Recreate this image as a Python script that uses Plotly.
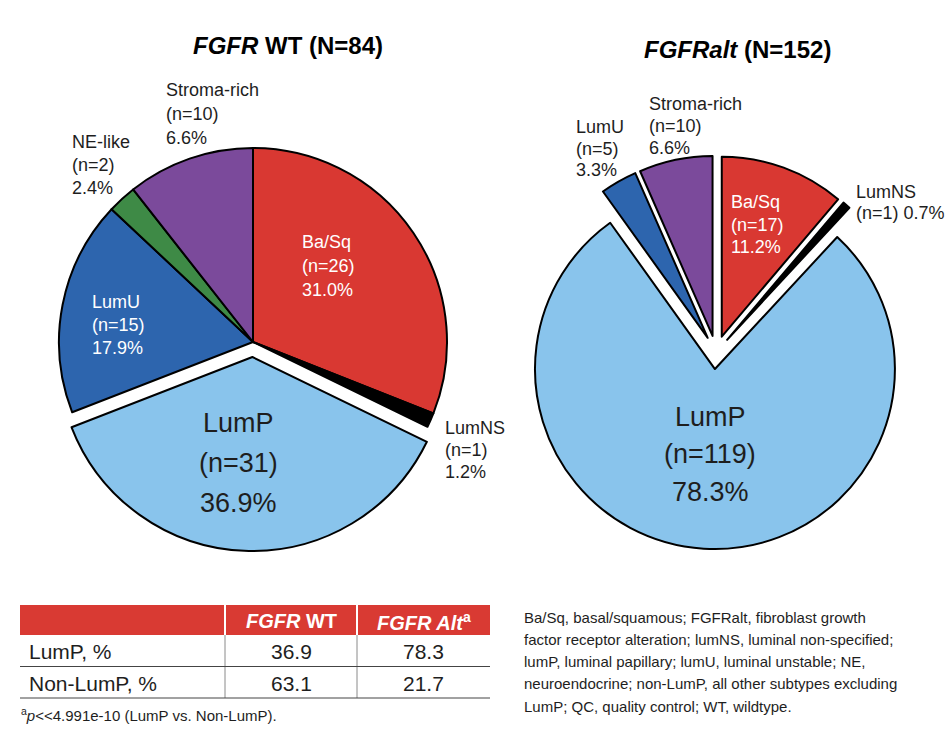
import plotly.graph_objects as go

# ---------------- data ----------------
wt_subtypes = ["Ba/Sq", "LumNS", "LumP", "LumU", "NE-like", "Stroma-rich"]
wt_n = [26, 1, 31, 15, 2, 10]
wt_pct_label = [31.0, 1.2, 36.9, 17.9, 2.4, 6.6]
wt_slice = [31.0, 1.2, 36.9, 17.9, 2.4, 10.6]   # slice sizes as drawn

alt_subtypes = ["Ba/Sq", "LumNS", "LumP", "LumU", "Stroma-rich"]
alt_n = [17, 1, 119, 5, 10]
alt_pct_label = [11.2, 0.7, 78.3, 3.3, 6.6]
alt_slice = [11.2, 0.7, 78.3, 3.3, 6.6]

table_header = ["", "<b><i>FGFR</i> WT</b>", "<b><i>FGFR Alt</i><sup>a</sup></b>"]
table_rows = ["LumP, %", "Non-LumP, %"]
table_wt = ["36.9", "63.1"]
table_alt = ["78.3", "21.7"]

footnote = "<sup>a</sup><i>p</i>&lt;&lt;4.991e-10 (LumP vs. Non-LumP)."
abbrev_lines = [
    "Ba/Sq, basal/squamous; FGFRalt, fibroblast growth",
    "factor receptor alteration; lumNS, luminal non-specified;",
    "lumP, luminal papillary; lumU, luminal unstable; NE,",
    "neuroendocrine; non-LumP, all other subtypes excluding",
    "LumP; QC, quality control; WT, wildtype.",
]

# ---------------- style ----------------
W, H = 946, 744
FONT = "Liberation Sans, Arial, sans-serif"
DARK = "#1e1e1e"
RED_HEAD = "#D93A33"
colors = {
    "Ba/Sq": "#D93832",
    "LumNS": "#000000",
    "LumP": "#89C4EC",
    "LumU": "#2D65AE",
    "NE-like": "#3E8A46",
    "Stroma-rich": "#7B4A9B",
}


def px(x):
    return x / W


def py(y):
    return 1 - y / H


fig = go.Figure()

fig.add_trace(go.Pie(
    labels=wt_subtypes, values=wt_slice, sort=False, direction="clockwise", rotation=0,
    marker=dict(colors=[colors[s] for s in wt_subtypes], line=dict(color="black", width=2)),
    pull=[0, 0, 0.0773, 0, 0, 0], textinfo="none", showlegend=False,
    domain=dict(x=[px(44), px(462)], y=[py(551), py(133)]),
))

fig.add_trace(go.Pie(
    labels=alt_subtypes, values=alt_slice, sort=False, direction="clockwise", rotation=0,
    marker=dict(colors=[colors[s] for s in alt_subtypes], line=dict(color="black", width=2)),
    pull=[0.093] * len(alt_subtypes), textinfo="none", showlegend=False,
    domain=dict(x=[px(519.3), px(912.7)], y=[py(549.1), py(155.6)]),
))

annotations = []
shapes = []


def text(t, x, y, size, color, xanchor="left"):
    annotations.append(dict(
        x=px(x), y=py(y), xref="paper", yref="paper", text=t,
        showarrow=False, xanchor=xanchor, yanchor="middle",
        font=dict(family=FONT, size=size, color=color)))


def add_lines(lines, x, y0, dy, size, color, xanchor="left"):
    for i, t in enumerate(lines):
        text(t, x, y0 + i * dy, size, color, xanchor)


def hline(x0, x1, y, color, width=1):
    shapes.append(dict(type="line", xref="paper", yref="paper", x0=px(x0), x1=px(x1),
                       y0=py(y), y1=py(y), line=dict(color=color, width=width)))


def vline(x, y0, y1, color, width=1):
    shapes.append(dict(type="line", xref="paper", yref="paper", x0=px(x), x1=px(x),
                       y0=py(y1), y1=py(y0), line=dict(color=color, width=width)))


# ---------------- table ----------------
TX0, TY0 = 20, 605
colw = [205, 132, 133]
HEAD_H, ROW_H = 30, 31.5
col_edges = [TX0]
for w in colw:
    col_edges.append(col_edges[-1] + w)
TX1 = col_edges[-1]
shapes.append(dict(type="rect", xref="paper", yref="paper", x0=px(TX0), x1=px(TX1),
                   y0=py(TY0 + HEAD_H), y1=py(TY0), fillcolor=RED_HEAD, line=dict(width=0),
                   layer="below"))
body_top = TY0 + HEAD_H
body_bot = body_top + ROW_H * len(table_rows)
for e in col_edges[1:-1]:
    vline(e, TY0, body_top, "white", 2)
    vline(e, body_top, body_bot, "#8a8a8a", 1)
for r in range(1, len(table_rows) + 1):
    hline(TX0, TX1, body_top + r * ROW_H, "#444444", 1)
for c, h in enumerate(table_header):
    if h:
        text(h, (col_edges[c] + col_edges[c + 1]) / 2, TY0 + HEAD_H / 2 + 1, 20, "white", "center")
columns = [table_rows, table_wt, table_alt]
for c, col in enumerate(columns):
    for r, v in enumerate(col):
        yc = body_top + (r + 0.5) * ROW_H + 1
        if c == 0:
            text(v, TX0 + 7, yc, 21, DARK, "left")
        else:
            text(v, (col_edges[c] + col_edges[c + 1]) / 2, yc, 21, DARK, "center")

# ---------------- titles ----------------
annotations.append(dict(x=px(288), y=py(45), xref="paper", yref="paper", showarrow=False,
                        text="<b><i>FGFR</i> WT (N=84)</b>", xanchor="center", yanchor="middle",
                        font=dict(family=FONT, size=24, color="black")))
annotations.append(dict(x=px(737), y=py(50), xref="paper", yref="paper", showarrow=False,
                        text="<b><i>FGFRalt</i> (N=152)</b>", xanchor="center", yanchor="middle",
                        font=dict(family=FONT, size=24, color="black")))


def lab(names, ns, pcts, name):
    i = names.index(name)
    return [name, f"(n={ns[i]})", f"{pcts[i]:.1f}%"]


LS = 18
# WT labels
add_lines(lab(wt_subtypes, wt_n, wt_pct_label, "Stroma-rich"), 164, 90, 24, LS, DARK)
add_lines(lab(wt_subtypes, wt_n, wt_pct_label, "NE-like"), 70, 142, 23, LS, DARK)
add_lines(lab(wt_subtypes, wt_n, wt_pct_label, "LumU"), 90, 302, 23, LS, "white")
add_lines(lab(wt_subtypes, wt_n, wt_pct_label, "Ba/Sq"), 300, 242, 24, LS, "white")
add_lines(lab(wt_subtypes, wt_n, wt_pct_label, "LumNS"), 443, 428, 22, LS, DARK)
add_lines(lab(wt_subtypes, wt_n, wt_pct_label, "LumP"), 238, 423, 40, 27, DARK, "center")

# FGFRalt labels
add_lines(lab(alt_subtypes, alt_n, alt_pct_label, "Stroma-rich"), 647, 104, 22, LS, DARK)
add_lines(lab(alt_subtypes, alt_n, alt_pct_label, "LumU"), 574, 127, 21.5, LS, DARK)
add_lines(lab(alt_subtypes, alt_n, alt_pct_label, "Ba/Sq"), 729, 202, 22.5, LS, "white")
i_ns = alt_subtypes.index("LumNS")
add_lines(["LumNS", f"(n={alt_n[i_ns]}) {alt_pct_label[i_ns]:.1f}%"], 854, 192, 21, LS, DARK)
add_lines(lab(alt_subtypes, alt_n, alt_pct_label, "LumP"), 710, 417, 37.5, 27, DARK, "center")

# footnote and abbreviations
text(footnote, 19, 714, 15, DARK)
add_lines(abbrev_lines, 522, 617, 22.3, 15, DARK)

fig.update_layout(
    width=W, height=H, autosize=False,
    margin=dict(l=0, r=0, t=0, b=0),
    paper_bgcolor="white", plot_bgcolor="white",
    annotations=annotations, shapes=shapes,
    font=dict(family=FONT),
)

fig.write_html("out.html")
